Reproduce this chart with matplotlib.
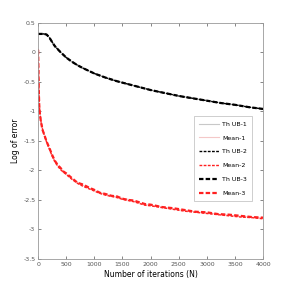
import matplotlib
matplotlib.use('Agg')
import matplotlib.pyplot as plt

# iterations at which the curves were read
n_ub = [0, 50, 100, 150, 200, 250, 300, 400, 500, 600, 700, 800, 1000, 1200, 1400, 1600,
        1800, 2000, 2250, 2500, 2750, 3000, 3250, 3500, 3750, 4000]
ub1 = [0.31, 0.31, 0.31, 0.30, 0.25, 0.17, 0.10, 0.00, -0.09, -0.16, -0.22, -0.27, -0.36,
       -0.43, -0.49, -0.54, -0.59, -0.64, -0.69, -0.74, -0.78, -0.82, -0.86, -0.89, -0.93, -0.96]
ub2 = ub1
ub3 = ub1

n_mean = [0, 5, 10, 20, 30, 50, 80, 100, 150, 200, 250, 300, 350, 400, 450, 500, 600, 700,
          800, 900, 1000, 1100, 1200, 1300, 1400, 1500, 1600, 1700, 1800, 1900, 2000, 2200,
          2400, 2600, 2800, 3000, 3200, 3400, 3600, 3800, 4000]
mean1 = [0.05, -0.2, -0.55, -0.85, -1.0, -1.15, -1.3, -1.36, -1.5, -1.63, -1.75, -1.85, -1.92,
         -1.97, -2.01, -2.06, -2.14, -2.20, -2.25, -2.30, -2.34, -2.37, -2.41, -2.42, -2.45,
         -2.47, -2.49, -2.52, -2.55, -2.58, -2.59, -2.62, -2.65, -2.68, -2.70, -2.72, -2.74,
         -2.76, -2.78, -2.79, -2.81]
mean2 = [0.05, -0.22, -0.58, -0.88, -1.02, -1.17, -1.31, -1.38, -1.52, -1.64, -1.76, -1.86,
         -1.93, -1.99, -2.03, -2.07, -2.15, -2.22, -2.27, -2.31, -2.35, -2.39, -2.42, -2.44,
         -2.46, -2.49, -2.51, -2.53, -2.56, -2.59, -2.60, -2.63, -2.66, -2.69, -2.71, -2.73,
         -2.75, -2.77, -2.79, -2.80, -2.82]
mean3 = [0.04, -0.25, -0.6, -0.9, -1.03, -1.18, -1.32, -1.37, -1.51, -1.62, -1.74, -1.84,
         -1.91, -1.96, -2.02, -2.05, -2.13, -2.21, -2.24, -2.29, -2.33, -2.38, -2.40, -2.43,
         -2.44, -2.48, -2.50, -2.51, -2.54, -2.57, -2.58, -2.62, -2.64, -2.67, -2.70, -2.71,
         -2.74, -2.75, -2.77, -2.79, -2.80]

fig = plt.figure(figsize=(2.91, 2.91), dpi=100)
ax = fig.add_axes([0.131, 0.110, 0.773, 0.812])

ax.plot(n_ub, ub1, color='#c8c8c8', lw=0.8, label='Th UB-1')
ax.plot(n_mean, mean1, color='#f4c8c8', lw=0.8, label='Mean-1')
ax.plot(n_ub, ub2, color='black', lw=1.0, ls=(0, (2, 1)), label='Th UB-2')
ax.plot(n_mean, mean2, color='#ff2020', lw=1.0, ls=(0, (2, 1)), label='Mean-2')
ax.plot(n_ub, ub3, color='black', lw=1.6, ls=(0, (2, 1)), label='Th UB-3')
ax.plot(n_mean, mean3, color='#ff2020', lw=1.6, ls=(0, (2, 1)), label='Mean-3')

ax.set_xlim(0, 4000)
ax.set_ylim(-3.5, 0.5)
ax.set_xticks(range(0, 4001, 500))
ax.set_yticks([-3.5, -3, -2.5, -2, -1.5, -1, -0.5, 0, 0.5])
ax.set_yticklabels(['-3.5', '-3', '-2.5', '-2', '-1.5', '-1', '-0.5', '0', '0.5'])
ax.tick_params(direction='in', length=2, width=0.5, labelsize=4.5, colors='#555555',
               top=True, right=True, pad=2)
for s in ax.spines.values():
    s.set_color('#999999')
    s.set_linewidth(0.6)

ax.set_xlabel('Number of iterations (N)', fontsize=5.5, labelpad=2)
ax.set_ylabel('Log of error', fontsize=5.5, labelpad=2)

leg = ax.legend(loc='center right', bbox_to_anchor=(0.965, 0.425), fontsize=4.5,
                handlelength=3.2, handletextpad=0.5, frameon=True, fancybox=False,
                edgecolor='#aaaaaa', borderpad=0.8, labelspacing=1.35)
leg.get_frame().set_linewidth(0.5)

fig.savefig('out.png', dpi=100)
